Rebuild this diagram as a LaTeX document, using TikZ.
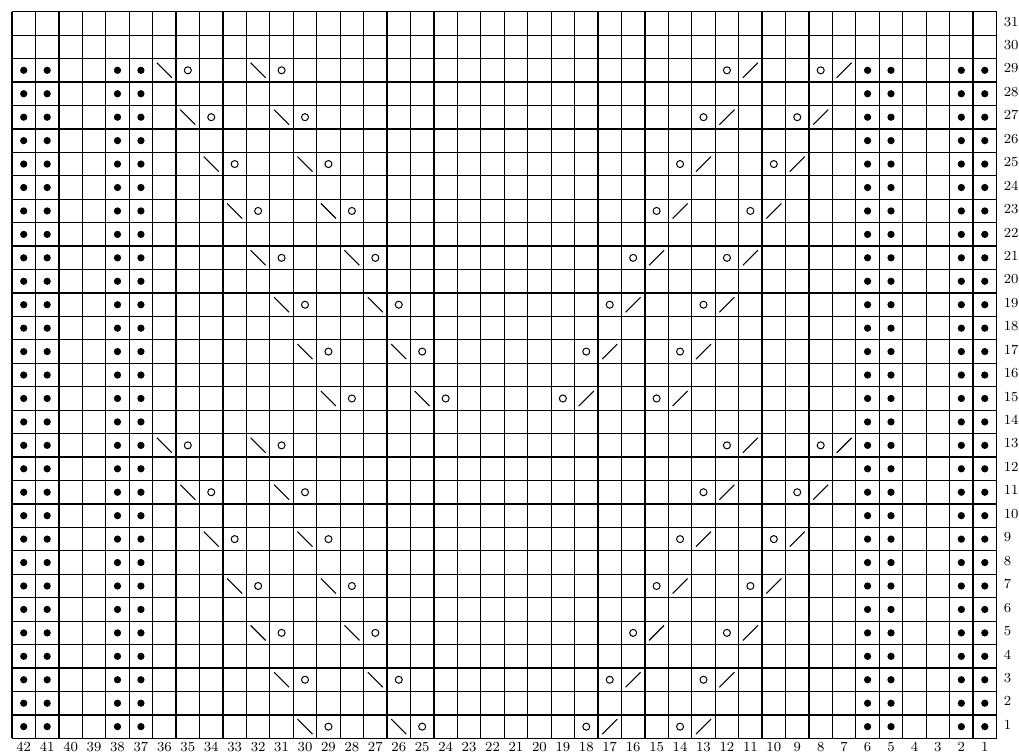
\documentclass[tikz,border=0pt]{standalone}
\begin{document}
\begin{tikzpicture}[x=0.5cm,y=0.5cm,
  gridline/.style={line width=0.75pt},
  purl/.style={fill=black},
  yo/.style={line width=0.6pt},
  decline/.style={line width=0.65pt},
  lbl/.style={inner sep=0pt,font=\fontsize{8.4}{10}\selectfont}]
\useasboundingbox (-0.512,-0.627) rectangle (42.96,31.5);
% grid
\foreach \i in {0,...,42}{\draw[gridline] (\i,0) -- (\i,31);}
\foreach \j in {0,...,31}{\draw[gridline] (0,\j) -- (42,\j);}
% purl dots
\foreach \r in {1,...,29}{
  \foreach \n in {42,41,38,37,6,5,2,1}{
    \fill[purl] ({42.5-\n},{\r-0.5}) circle (0.155);
  }}
% lace rows: row/shift
\foreach \r/\k in {29/0,27/1,25/2,23/3,21/4,19/5,17/6,15/7,13/0,11/1,9/2,7/3,5/4,3/5,1/6}{
  % left-leaning decreases (backslash) and yarn overs
  \foreach \n in {36,32}{
    \draw[decline] ({42-(\n-\k)+0.18},{\r-0.18}) -- ({42-(\n-\k)+0.82},{\r-0.82});
    \draw[yo] ({42.5-(\n-1-\k)},{\r-0.5}) circle (0.15);
  }
  % right-leaning decreases (slash) and yarn overs
  \foreach \n in {12,8}{
    \draw[yo] ({42.5-(\n+\k)},{\r-0.5}) circle (0.15);
    \draw[decline] ({42-(\n-1+\k)+0.18},{\r-0.82}) -- ({42-(\n-1+\k)+0.82},{\r-0.18});
  }
}
% labels
\foreach \n in {1,...,42}{\node[lbl] (b\n) at ({42.5-\n},-0.36) {\n};}
\foreach \r in {1,...,31}{\node[lbl,anchor=west] (r\r) at (42.3,{\r-0.42}) {\r};}
\end{tikzpicture}
\end{document}
